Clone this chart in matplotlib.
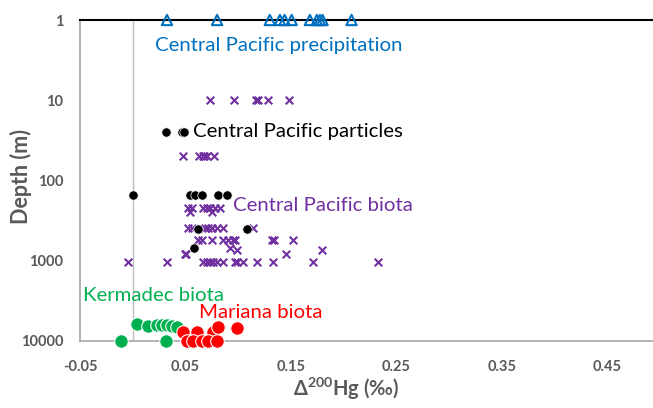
import matplotlib
matplotlib.use('Agg')
import matplotlib.pyplot as plt

plt.rcParams['font.family'] = ['Lato', 'DejaVu Sans']
plt.rcParams['mathtext.default'] = 'regular'

# Central Pacific precipitation (depth 1 m)
precip_x = [0.0325, 0.080, 0.130, 0.1396, 0.144, 0.1507, 0.168, 0.1746, 0.1775, 0.180, 0.2075]
precip_depth = [1] * len(precip_x)

# Central Pacific particles
part_x = [0.0315, 0.0464, 0.0486,
          0.0, 0.0543, 0.0595, 0.0656, 0.0808, 0.0898,
          0.0616, 0.108, 0.058]
part_depth = [25, 25, 25,
              150, 150, 150, 150, 150, 150,
              400, 400, 700]

# Central Pacific biota
biota_x = [0.073, 0.096, 0.1168, 0.1187, 0.1282, 0.1481,
           0.0476, 0.0628, 0.0666, 0.0675, 0.0704, 0.0770,
           0.0524, 0.0562, 0.0666, 0.0704, 0.0732, 0.078, 0.0827,
           0.0543, 0.0751,
           0.0524, 0.0562, 0.0685, 0.0713, 0.0751, 0.0799, 0.0855, 0.114,
           0.0618, 0.0656, 0.0751, 0.0855, 0.0903, 0.095, 0.0969, 0.132, 0.1339, 0.1519,
           0.0922, 0.0988, 0.1794,
           0.0495, 0.0505, 0.1453,
           -0.0045, 0.0325, 0.0666, 0.0704, 0.0732, 0.0761, 0.0799, 0.0855,
           0.0969, 0.0988, 0.1045, 0.1178, 0.1329, 0.1709, 0.2325]
biota_depth = [10] * 6 + [50] * 6 + [220] * 7 + [250] * 2 + [390] * 8 \
              + [546] * 10 + [690, 730, 730] + [820] * 3 + [1050] * 15

# Kermadec biota
kerm_x = [-0.0111, 0.0037, 0.0147, 0.0227, 0.0274, 0.0322, 0.0369, 0.0416, 0.0312]
kerm_depth = [10000, 6100, 6500, 6300, 6300, 6300, 6500, 6700, 10000]

# Mariana biota
mar_x = [0.0479, 0.0606, 0.0763, 0.0808, 0.0985, 0.0511, 0.0574, 0.0654, 0.0716, 0.0796]
mar_depth = [7800, 7800, 7700, 6700, 6900, 10000, 10000, 10000, 10000, 10000]

blue = '#0070C0'
purple = '#7030A0'
green = '#00B050'
red = '#FF0000'
grey = '#595959'

fig = plt.figure(figsize=(6.53, 4.08), dpi=100)
ax = fig.add_axes([80 / 653, 67 / 408, 580 / 653, 321 / 408])

ax.axvline(0, color='#BFBFBF', lw=1, zorder=0)

ax.scatter(biota_x, biota_depth, marker='x', s=30, c=purple, linewidths=1.5, zorder=3)
ax.scatter(part_x, part_depth, marker='o', s=45, c='black', edgecolors='white', linewidths=0.5, zorder=4)
ax.scatter(precip_x, precip_depth, marker='^', s=55, facecolors='none', edgecolors=blue,
           linewidths=1.5, zorder=5, clip_on=False)
ax.scatter(kerm_x, kerm_depth, marker='o', s=95, c=green, edgecolors='white', linewidths=0.8,
           zorder=4, clip_on=False)
ax.scatter(mar_x, mar_depth, marker='o', s=95, c=red, edgecolors='white', linewidths=0.8,
           zorder=5, clip_on=False)

ax.set_yscale('log')
ax.set_ylim(10000, 1)
ax.set_xlim(-0.05, 0.5)
ax.set_yticks([1, 10, 100, 1000, 10000])
ax.set_yticklabels(['1', '10', '100', '1000', '10000'])
ax.minorticks_off()
ax.set_xticks([-0.05, 0.05, 0.15, 0.25, 0.35, 0.45])
ax.set_xticklabels(['-0.05', '0.05', '0.15', '0.25', '0.35', '0.45'])
ax.tick_params(length=0, labelsize=10.5, labelcolor=grey, pad=14)
ax.tick_params(axis='y', pad=12)
for lab in ax.get_xticklabels() + ax.get_yticklabels():
    lab.set_fontweight('bold')

ax.spines['right'].set_visible(False)
ax.spines['top'].set_color('black')
ax.spines['top'].set_linewidth(1.5)
for s in ['left', 'bottom']:
    ax.spines[s].set_color('#A6A6A6')
    ax.spines[s].set_linewidth(1.2)

fs = 14.7
ax.text(0.021, 2.05, 'Central Pacific precipitation', color=blue, fontsize=fs, va='center')
ax.text(0.057, 24.4, 'Central Pacific particles', color='black', fontsize=fs, va='center')
ax.text(0.095, 205, 'Central Pacific biota', color=purple, fontsize=fs, va='center')
ax.text(-0.047, 2740, 'Kermadec biota', color=green, fontsize=fs, va='center')
ax.text(0.0628, 4470, 'Mariana biota', color=red, fontsize=fs, va='center')

fig.text(21 / 653, 1 - 177 / 408, 'Depth (m)', rotation=90, color=grey, fontsize=15.5,
         fontweight='bold', ha='center', va='center')
fig.text(346 / 653, 1 - 389 / 408, r'$\Delta^{200}$Hg (‰)', color=grey, fontsize=14.5,
         fontweight='bold', ha='center', va='center')

fig.savefig('out.png', dpi=100)
